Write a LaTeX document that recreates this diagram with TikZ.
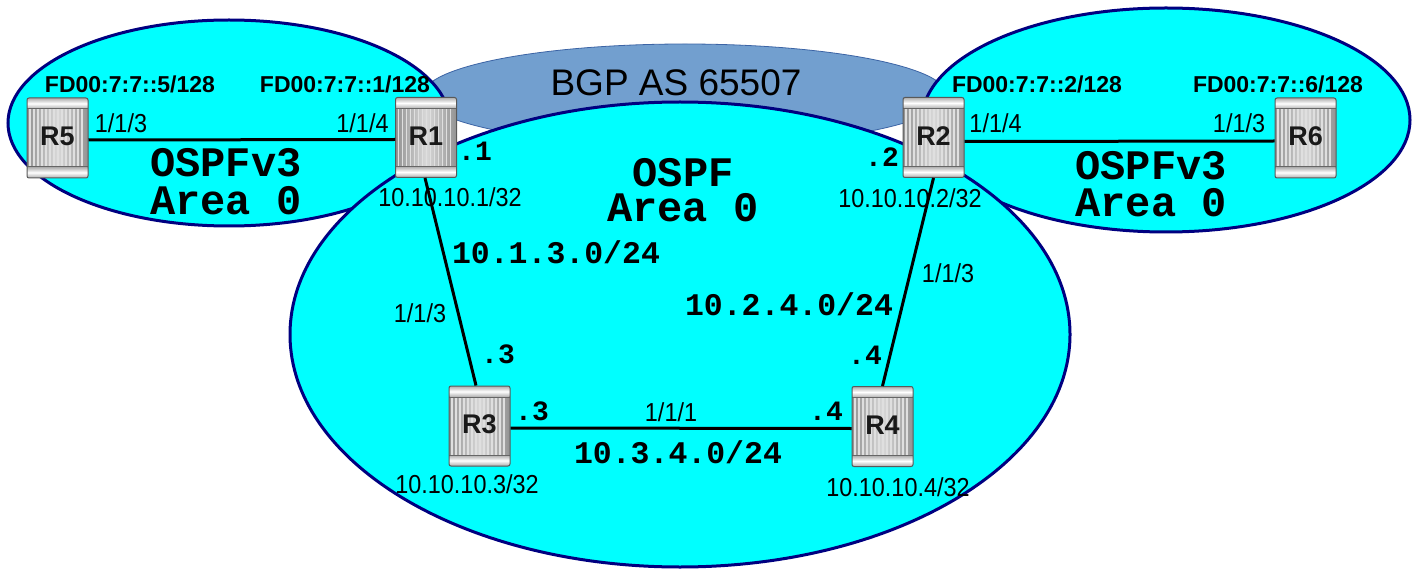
\documentclass[tikz,border=0pt]{standalone}
\usepackage{fontspec}
\usepackage{graphicx}
\setmainfont{Liberation Sans}
\newfontfamily\monob{Liberation Mono}
\usetikzlibrary{calc}
\definecolor{areacyan}{RGB}{0,255,255}
\definecolor{areanavy}{RGB}{0,0,128}
\definecolor{bgpblue}{RGB}{114,159,207}
\definecolor{bgpedge}{RGB}{60,100,165}
\newcommand\narrowtxt[1]{\scalebox{0.9}[1]{\fontsize{26}{26}\selectfont #1}}
\tikzset{
  area/.style={fill=areacyan, draw=areanavy, line width=3pt},
  link/.style={line width=3pt, draw=black},
  areatxt/.style={font=\monob\bfseries\fontsize{42}{#1}\selectfont, inner sep=0pt, anchor=base, align=center},
  netlbl/.style={font=\monob\bfseries\fontsize{31.5}{32}\selectfont, inner sep=0pt, anchor=base},
  dotlbl/.style={font=\monob\bfseries\fontsize{28}{28}\selectfont, inner sep=0pt, anchor=base},
  smalllbl/.style={inner sep=0pt, anchor=base},
  fdlbl/.style={font=\bfseries\fontsize{23}{23}\selectfont, inner sep=0pt, anchor=base},
  rlabel/.style={font=\bfseries\fontsize{27}{27}\selectfont, inner sep=0pt, text=black!90},
  routerbox/.style={minimum width=61pt, minimum height=80pt, inner sep=0pt,
    draw=black!65, line width=1pt, rounded corners=2pt,
    path picture={
      \shade[left color=gray!85, right color=gray!85, middle color=gray!30]
        (path picture bounding box.south west) rectangle (path picture bounding box.north east);
      \foreach \i in {1,...,14}{
        \draw[white!75!gray, line width=1.2pt]
          ($(path picture bounding box.south west)+(\i*4pt-1pt,0pt)$) -- ++(0pt,80pt);
      }
      \shade[top color=gray!65, bottom color=gray!65, middle color=white]
        (path picture bounding box.north west) rectangle ($(path picture bounding box.north east)+(0pt,-11pt)$);
      \draw[black!60, line width=1pt]
        ($(path picture bounding box.north west)+(0pt,-11pt)$) -- ($(path picture bounding box.north east)+(0pt,-11pt)$);
      \shade[top color=gray!65, bottom color=gray!65, middle color=white]
        (path picture bounding box.south west) rectangle ($(path picture bounding box.south east)+(0pt,11pt)$);
      \draw[black!60, line width=1pt]
        ($(path picture bounding box.south west)+(0pt,11pt)$) -- ($(path picture bounding box.south east)+(0pt,11pt)$);
    }},
}
\newcommand\router[3]{%
  \node[routerbox] (#1) at (#2) {};
  \node[rlabel] (#1-lbl) at ($(#1)+(0,-1.5)$) {#3};
}
\begin{document}
\begin{tikzpicture}[x=1pt, y=-1pt]
\useasboundingbox (0,0) rectangle (1418,569);
\fill[white] (0,0) rectangle (1418,569);
% BGP AS ellipse
\draw[fill=bgpblue, draw=bgpedge, line width=0.8pt] (685,95) ellipse [x radius=262, y radius=51];
% OSPFv3 areas
\draw[area] (229,123) ellipse [x radius=221, y radius=103];
\draw[area] (1166,120) ellipse [x radius=244, y radius=112];
% OSPF backbone area
\draw[area] (680,334.5) ellipse [x radius=390, y radius=232.5];
\node[font=\fontsize{37}{37}\selectfont, inner sep=0pt, anchor=base] (bgp) at (676,96) {BGP AS 65507};

% routers
\router{R5}{57.5,138}{R5}
\router{R1}{426,137.5}{R1}
\router{R2}{933.5,137.5}{R2}
\router{R6}{1305.5,138}{R6}
\router{R3}{479.5,426}{R3}
\router{R4}{882.5,426.5}{R4}

% links
\draw[link] ([yshift=-2pt]R5.east) -- ([yshift=-2pt]R1.west);
\draw[link] ([yshift=-4pt]R2.east) -- ([yshift=-3pt]R6.west);
\draw[link] ([xshift=-1pt]R1.south) -- ([xshift=-3.5pt]R3.north);
\draw[link] (R2.south) -- (R4.north);
\draw[link] ([yshift=-2pt]R3.east) -- ([yshift=-2pt]R4.west);

% area names (anchor = baseline of the second line)
\node[areatxt=38] (a-left) at (226,215) {OSPFv3\\Area 0};
\node[areatxt=37] (a-right) at (1151,217) {OSPFv3\\Area 0};
\node[areatxt=35] (a-mid) at (683,222) {OSPF\\Area 0};

% IPv6 system addresses
\node[fdlbl] (fd5) at (130,93) {FD00:7:7::5/128};
\node[fdlbl] (fd1) at (345,93) {FD00:7:7::1/128};
\node[fdlbl] (fd2) at (1037,93) {FD00:7:7::2/128};
\node[fdlbl] (fd6) at (1278,93) {FD00:7:7::6/128};

% ports
\node[smalllbl] (p5) at (121,133) {\narrowtxt{1/1/3}};
\node[smalllbl] (p1a) at (362.5,133) {\narrowtxt{1/1/4}};
\node[smalllbl] (p2a) at (995.5,133) {\narrowtxt{1/1/4}};
\node[smalllbl] (p6) at (1239,133) {\narrowtxt{1/1/3}};
\node[smalllbl] (p1b) at (420,322) {\narrowtxt{1/1/3}};
\node[smalllbl] (p2b) at (948,283) {\narrowtxt{1/1/3}};
\node[smalllbl] (p3) at (671,421) {\narrowtxt{1/1/1}};

% IPv4 system addresses
\node[smalllbl] (sys1) at (450,207) {\narrowtxt{10.10.10.1/32}};
\node[smalllbl] (sys2) at (910,208) {\narrowtxt{10.10.10.2/32}};
\node[smalllbl] (sys3) at (467,493) {\narrowtxt{10.10.10.3/32}};
\node[smalllbl] (sys4) at (898,496) {\narrowtxt{10.10.10.4/32}};

% interface suffixes
\node[dotlbl] (d1) at (475,161) {.1};
\node[dotlbl] (d2) at (882,167) {.2};
\node[dotlbl] (d3a) at (498,363) {.3};
\node[dotlbl] (d3b) at (532,420) {.3};
\node[dotlbl] (d4a) at (865,364) {.4};
\node[dotlbl] (d4b) at (826,420) {.4};

% subnets
\node[netlbl] (n13) at (556,264) {10.1.3.0/24};
\node[netlbl] (n24) at (789,315) {10.2.4.0/24};
\node[netlbl] (n34) at (678,463) {10.3.4.0/24};
\end{tikzpicture}
\end{document}
